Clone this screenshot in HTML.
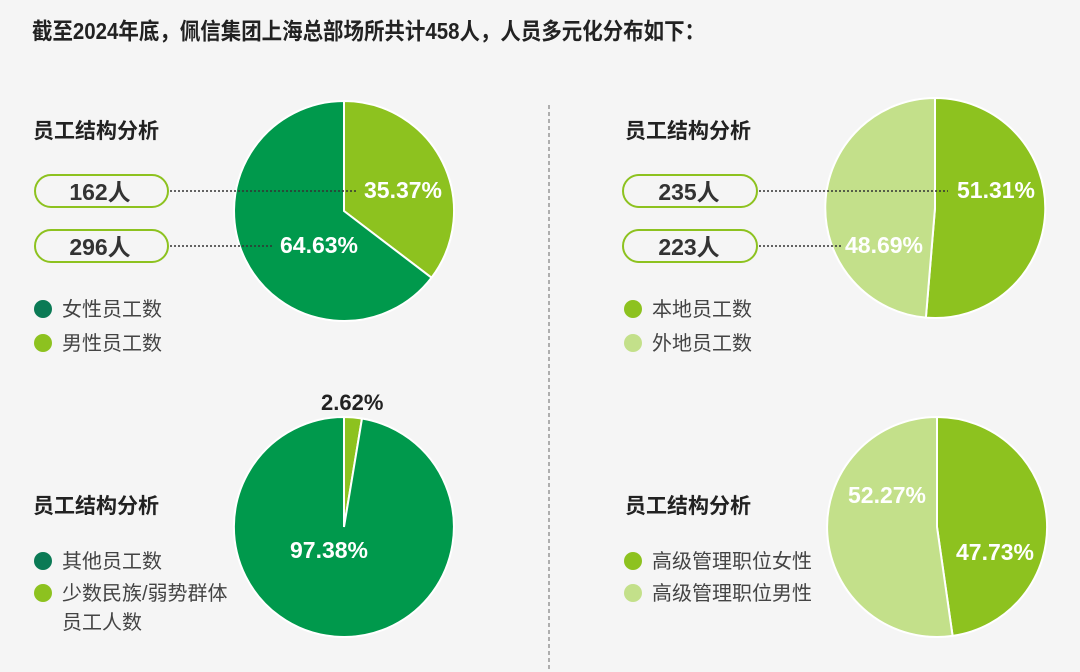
<!DOCTYPE html>
<html><head><meta charset="utf-8"><style>
body{margin:0;width:1080px;height:672px;background:#f5f5f5;overflow:hidden;font-family:"Liberation Sans","Noto Sans CJK SC",sans-serif;}
svg{position:absolute;left:0;top:0}
</style></head><body>
<svg width="1080" height="672" viewBox="0 0 1080 672" font-family="Liberation Sans, Noto Sans CJK SC, sans-serif">
<text x="32" y="39" font-size="23" font-weight="bold" fill="#222" textLength="673" lengthAdjust="spacingAndGlyphs">截至2024年底，佩信集团上海总部场所共计458人，人员多元化分布如下：</text>
<line x1="549" y1="105" x2="549" y2="672" stroke="#666" stroke-width="1" stroke-dasharray="4,3"/>

<path d="M344,211 L344,101 A110,110 0 0 1 431.5,277.7 Z" fill="#8dc21f" stroke="#fff" stroke-width="2"/>
<path d="M344,211 L431.5,277.7 A110,110 0 1 1 344,101 Z" fill="#00994c" stroke="#fff" stroke-width="2"/>
<path d="M344,527 L344,417 A110,110 0 0 1 362,418.5 Z" fill="#8dc21f" stroke="#fff" stroke-width="2"/>
<path d="M344,527 L362,418.5 A110,110 0 1 1 344,417 Z" fill="#00994c" stroke="#fff" stroke-width="2"/>
<path d="M935,208 L935,98 A110,110 0 1 1 925.9,317.6 Z" fill="#8dc21f" stroke="#fff" stroke-width="2"/>
<path d="M935,208 L925.9,317.6 A110,110 0 0 1 935,98 Z" fill="#c3e08a" stroke="#fff" stroke-width="2"/>
<path d="M937,527 L937,417 A110,110 0 0 1 952.6,635.9 Z" fill="#8dc21f" stroke="#fff" stroke-width="2"/>
<path d="M937,527 L952.6,635.9 A110,110 0 1 1 937,417 Z" fill="#c3e08a" stroke="#fff" stroke-width="2"/>

<g font-size="23" font-weight="bold" fill="#fff">
<text x="364" y="198">35.37%</text>
<text x="280" y="253">64.63%</text>
<text x="290" y="558">97.38%</text>
<text x="957" y="198">51.31%</text>
<text x="845" y="253">48.69%</text>
<text x="848" y="503">52.27%</text>
<text x="956" y="560">47.73%</text>
</g>
<text x="321" y="410" font-size="22" font-weight="bold" fill="#222">2.62%</text>

<g font-size="21" font-weight="bold" fill="#222">
<text x="33" y="138">员工结构分析</text>
<text x="33" y="513">员工结构分析</text>
<text x="625" y="138">员工结构分析</text>
<text x="625" y="513">员工结构分析</text>
</g>

<g fill="#f5f5f5" stroke="#8dc21f" stroke-width="2">
<rect x="35" y="175" width="133" height="32" rx="16"/>
<rect x="35" y="230" width="133" height="32" rx="16"/>
<rect x="623" y="175" width="134" height="32" rx="16"/>
<rect x="623" y="230" width="134" height="32" rx="16"/>
</g>
<g font-size="23" font-weight="bold" fill="#333" text-anchor="middle">
<text x="100" y="200">162人</text>
<text x="100" y="255">296人</text>
<text x="689" y="200">235人</text>
<text x="689" y="255">223人</text>
</g>
<g stroke="#333" stroke-width="1.5" stroke-dasharray="2,2">
<line x1="170" y1="191" x2="358" y2="191"/>
<line x1="170" y1="246" x2="273" y2="246"/>
<line x1="759" y1="191" x2="948" y2="191"/>
<line x1="759" y1="246" x2="843" y2="246"/>
</g>

<g font-size="20" fill="#444">
<circle cx="43" cy="309" r="9" fill="#0b7a55"/><text x="62" y="316">女性员工数</text>
<circle cx="43" cy="343" r="9" fill="#8dc21f"/><text x="62" y="350">男性员工数</text>
<circle cx="43" cy="561" r="9" fill="#0b7a55"/><text x="62" y="568">其他员工数</text>
<circle cx="43" cy="593" r="9" fill="#8dc21f"/><text x="62" y="600">少数民族/弱势群体</text>
<text x="62" y="629">员工人数</text>
<circle cx="633" cy="309" r="9" fill="#8dc21f"/><text x="652" y="316">本地员工数</text>
<circle cx="633" cy="343" r="9" fill="#c3e08a"/><text x="652" y="350">外地员工数</text>
<circle cx="633" cy="561" r="9" fill="#8dc21f"/><text x="652" y="568">高级管理职位女性</text>
<circle cx="633" cy="593" r="9" fill="#c3e08a"/><text x="652" y="600">高级管理职位男性</text>
</g>
</svg>
</body></html>
